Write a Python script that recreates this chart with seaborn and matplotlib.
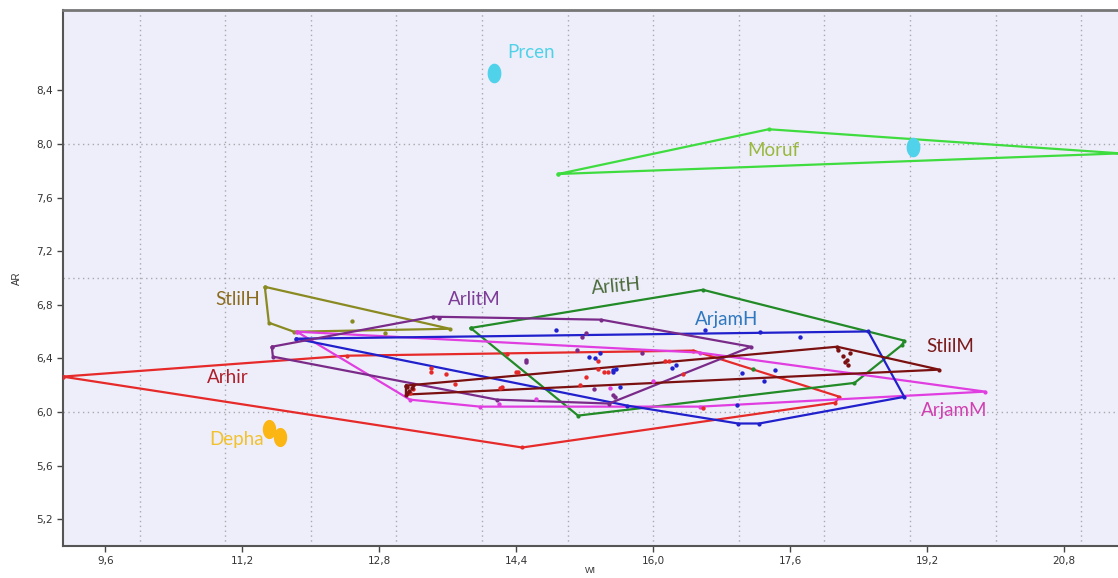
import numpy as np
import pandas as pd
import seaborn as sns
import matplotlib
matplotlib.use("Agg")
import matplotlib.pyplot as plt
from matplotlib.path import Path
from matplotlib.ticker import FixedLocator, FuncFormatter

# ---- hull outlines (WI, AR) for each group ----
moruf_wi = [14.89, 17.35, 21.46]
moruf_ar = [7.776, 8.11, 7.93]

arhir_wi = [9.103, 12.42, 16.47, 18.17, 18.13, 14.47]
arhir_ar = [6.264, 6.420, 6.458, 6.115, 6.070, 5.735]

stlilh_wi = [11.464, 11.511, 11.803, 13.626]
stlilh_ar = [6.934, 6.666, 6.599, 6.621]

arlitm_wi = [11.546, 13.428, 15.391, 17.144, 15.485, 14.176, 11.558]
arlitm_ar = [6.487, 6.711, 6.689, 6.487, 6.063, 6.092, 6.413]

arlith_wi = [13.868, 16.58, 18.936, 18.906, 18.352, 15.122]
arlith_ar = [6.627, 6.912, 6.532, 6.500, 6.217, 5.973]

arjamh_wi = [11.827, 18.512, 18.933, 17.238, 16.993, 15.695]
arjamh_ar = [6.547, 6.601, 6.113, 5.914, 5.914, 6.048]

arjamm_wi = [11.838, 16.548, 19.879, 16.548, 13.977, 13.159]
arjamm_ar = [6.599, 6.443, 6.152, 6.040, 6.040, 6.092]

stlilm_wi = [13.112, 18.149, 19.342, 13.112]
stlilm_ar = [6.197, 6.487, 6.316, 6.130]

# ---- individual specimens ----
arhir_pts_wi = [13.41, 13.40, 13.58, 13.68, 14.29, 14.40, 14.42, 14.21, 14.23, 15.15,
                15.22, 15.35, 15.43, 15.47, 15.35, 16.14, 16.18, 16.35, 16.58, 13.16, 13.20]
arhir_pts_ar = [6.33, 6.30, 6.28, 6.21, 6.43, 6.30, 6.30, 6.18, 6.19, 6.20,
                6.26, 6.38, 6.30, 6.30, 6.32, 6.38, 6.38, 6.28, 6.03, 6.14, 6.17]

arjamh_pts_wi = [14.87, 15.25, 15.32, 15.38, 15.53, 15.57, 15.53, 15.61, 16.22, 16.27,
                 17.04, 17.30, 17.42, 17.71, 16.98, 16.60, 17.25]
arjamh_pts_ar = [6.61, 6.41, 6.40, 6.44, 6.31, 6.32, 6.30, 6.19, 6.33, 6.35,
                 6.29, 6.23, 6.31, 6.56, 6.05, 6.61, 6.60]

arlitm_pts_wi = [14.51, 14.51, 15.17, 15.21, 15.11, 15.31, 15.53, 15.56, 15.87, 13.50]
arlitm_pts_ar = [6.39, 6.37, 6.56, 6.59, 6.46, 6.17, 6.13, 6.11, 6.44, 6.70]

arjamm_pts_wi = [14.63, 15.50, 16.00, 14.20]
arjamm_pts_ar = [6.10, 6.18, 6.23, 6.06]

stlilm_pts_wi = [18.16, 18.22, 18.27, 18.30, 18.24, 18.28, 13.12, 13.15, 13.18, 13.13, 13.20]
stlilm_pts_ar = [6.46, 6.42, 6.39, 6.44, 6.37, 6.35, 6.19, 6.16, 6.18, 6.14, 6.20]

stlilh_pts_wi = [12.48, 12.87]
stlilh_pts_ar = [6.68, 6.59]

arlith_pts_wi = [17.17]
arlith_pts_ar = [6.32]

prcen_wi = [14.14, 19.04]
prcen_ar = [8.53, 7.98]

depha_wi = [11.51, 11.64]
depha_ar = [5.876, 5.817]

# ---- axis ticks ----
x_ticks = [9.6, 11.2, 12.8, 14.4, 16.0, 17.6, 19.2, 20.8]
y_ticks = [5.2, 5.6, 6.0, 6.4, 6.8, 7.2, 7.6, 8.0, 8.4]
x_grid = list(range(10, 22))
y_grid = [5, 6, 7, 8, 9]

hulls = [
    ("Moruf", moruf_wi, moruf_ar, "#3fdc3f"),
    ("Arhir", arhir_wi, arhir_ar, "#e62a2a"),
    ("StlilH", stlilh_wi, stlilh_ar, "#8a8a22"),
    ("ArlitH", arlith_wi, arlith_ar, "#228a26"),
    ("ArjamM", arjamm_wi, arjamm_ar, "#e03ee0"),
    ("ArjamH", arjamh_wi, arjamh_ar, "#2020cc"),
    ("ArlitM", arlitm_wi, arlitm_ar, "#7a2a88"),
    ("StlilM", stlilm_wi, stlilm_ar, "#7a1010"),
]

points = [
    (arhir_pts_wi, arhir_pts_ar, "#e62a2a"),
    (arjamh_pts_wi, arjamh_pts_ar, "#2020cc"),
    (arlitm_pts_wi, arlitm_pts_ar, "#7a2a88"),
    (arjamm_pts_wi, arjamm_pts_ar, "#e03ee0"),
    (stlilm_pts_wi, stlilm_pts_ar, "#7a1010"),
    (stlilh_pts_wi, stlilh_pts_ar, "#8a8a22"),
    (arlith_pts_wi, arlith_pts_ar, "#228a26"),
]

labels = [
    ("Prcen", 14.30, 8.68, "#4fd2e8", "left", 0),
    ("Moruf", 17.40, 7.955, "#98b83e", "center", 0),
    ("StlilH", 11.149, 6.837, "#8b6c1e", "center", 0),
    ("ArlitM", 13.907, 6.837, "#7d3c98", "center", 0),
    ("ArlitH", 15.567, 6.934, "#4a6a3a", "center", 5),
    ("ArjamH", 16.864, 6.689, "#2f78c0", "center", 0),
    ("StlilM", 19.47, 6.487, "#7b1a1a", "center", 0),
    ("Arhir", 11.03, 6.256, "#b01e2a", "center", 0),
    ("ArjamM", 19.517, 6.010, "#d040b0", "center", 0),
    ("Depha", 11.137, 5.794, "#f2c12e", "center", 0),
]

sns.set_style("white")
plt.rcParams["font.family"] = ["Lato", "DejaVu Sans"]

fig = plt.figure(figsize=(11.18, 5.78), dpi=100)
ax = fig.add_axes([0.0564, 0.0554, 0.9436, 0.9273])
ax.set_facecolor("#eeeefa")

# upright ellipse marker
theta = np.linspace(0, 2 * np.pi, 60)
ellipse = Path(np.column_stack([0.7 * np.cos(theta), np.sin(theta)]), closed=True)

for name, wi, ar, col in hulls:
    df = pd.DataFrame({"WI": wi + wi[:1], "AR": ar + ar[:1]})
    sns.lineplot(data=df, x="WI", y="AR", sort=False, estimator=None, ax=ax,
                 color=col, lw=1.6, marker="o", markersize=3, markeredgewidth=0,
                 zorder=3)

for wi, ar, col in points:
    sns.scatterplot(x=wi, y=ar, ax=ax, color=col, s=10, linewidth=0, zorder=4)

sns.scatterplot(x=prcen_wi, y=prcen_ar, ax=ax, color="#4fd2ea", marker=ellipse,
                s=200, linewidth=0, zorder=5)
sns.scatterplot(x=depha_wi, y=depha_ar, ax=ax, color="#fbb613", marker=ellipse,
                s=190, linewidth=0, zorder=5)

for txt, x, y, col, ha, rot in labels:
    ax.text(x, y, txt, color=col, fontsize=13.5, ha=ha, va="center",
            rotation=rot, zorder=6)

ax.set_xlim(9.107, 21.43)
ax.set_ylim(5.0, 9.0)

ax.xaxis.remove_overlapping_locs = False
ax.yaxis.remove_overlapping_locs = False
ax.xaxis.set_major_locator(FixedLocator(x_ticks))
ax.yaxis.set_major_locator(FixedLocator(y_ticks))
ax.xaxis.set_minor_locator(FixedLocator(x_grid))
ax.yaxis.set_minor_locator(FixedLocator(y_grid))
fmt = FuncFormatter(lambda v, p: f"{v:.1f}".replace(".", ","))
ax.xaxis.set_major_formatter(fmt)
ax.yaxis.set_major_formatter(fmt)

ax.grid(False, which="major")
ax.grid(True, which="minor", color="#a8a8b0", linestyle=(0, (1, 2.5)), linewidth=1.0)
ax.tick_params(which="minor", length=0)
ax.tick_params(which="major", direction="out", length=4, width=1, color="#444444",
               labelsize=7.5, labelcolor="#333333", bottom=True, left=True)
for lab in ax.get_xticklabels() + ax.get_yticklabels():
    lab.set_family(["Liberation Sans Narrow", "DejaVu Sans"])

ax.set_xlabel("WI", fontsize=6.5, color="#333333",
              family=["Liberation Sans", "DejaVu Sans"])
ax.xaxis.set_label_coords(0.5, -0.038)
ax.set_ylabel("AR", fontsize=7, color="#333333", labelpad=10,
              family=["Liberation Sans", "DejaVu Sans"])

ax.spines["top"].set_color("#777777")
ax.spines["top"].set_linewidth(2)
ax.spines["left"].set_color("#555555")
ax.spines["left"].set_linewidth(1.5)
ax.spines["bottom"].set_color("#555555")
ax.spines["bottom"].set_linewidth(1.5)
ax.spines["right"].set_visible(False)

fig.savefig("out.png", dpi=100)
